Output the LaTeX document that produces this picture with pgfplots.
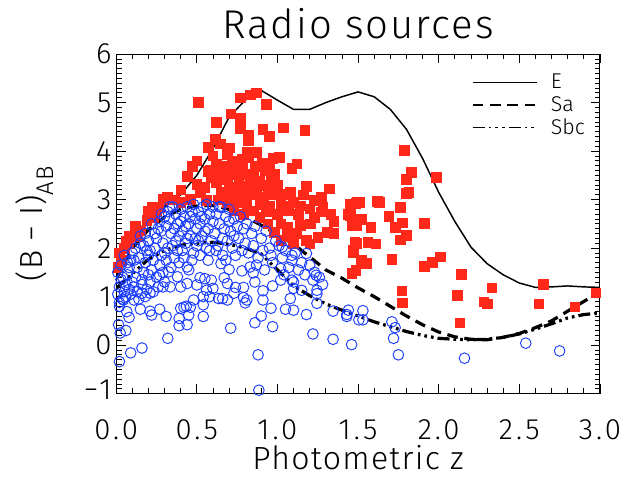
\documentclass[border=0pt]{standalone}
\usepackage{fontspec}
\setmainfont{Fira Sans Light}
\usepackage{pgfplots}
\pgfplotsset{compat=1.18}
\definecolor{sqred}{RGB}{255,40,25}
\definecolor{cblue}{RGB}{25,60,255}
\begin{document}
\begin{tikzpicture}
\useasboundingbox (-87pt,-63pt) rectangle (392.25pt,294.75pt);
\begin{axis}[
  at={(0pt,0pt)}, anchor=south west,
  scale only axis, width=362.25pt, height=254.25pt,
  xmin=0, xmax=3, ymin=-1, ymax=6,
  xtick={0,0.5,1,1.5,2,2.5,3},
  xticklabels={0.0,0.5,1.0,1.5,2.0,2.5,3.0},
  ytick={-1,0,1,2,3,4,5,6},
  yticklabels={{\raisebox{6pt}{−1}},0,1,2,3,4,5,{\raisebox{-7pt}{6}}},
  minor x tick num=4, minor y tick num=9,
  tick align=inside, major tick length=7pt, minor tick length=4pt,
  axis line style={line width=0.8pt},
  every tick/.style={black, line width=0.6pt},
  ticklabel style={font=\fontsize{22}{24}\selectfont\addfontfeatures{LetterSpace=10}},
  xticklabel style={anchor=base, yshift=-34pt},
  title={Radio sources},
  title style={at={(0.5,1)}, anchor=base, yshift=6pt, font=\fontsize{30}{32}\selectfont\addfontfeatures{LetterSpace=5}},
  xlabel={Photometric z},
  xlabel style={at={(0.5,0)}, anchor=base, yshift=-57pt, font=\fontsize{24}{26}\selectfont\addfontfeatures{LetterSpace=4}},
  ylabel={(B\hspace{0.3em}−\hspace{0.3em}I)\raisebox{-0.35em}{\fontsize{18}{18}\selectfont AB}},
  ylabel style={at={(axis description cs:-0.168,0.5)}, anchor=center, font=\fontsize{24}{26}\selectfont\addfontfeatures{LetterSpace=4}},
  legend style={draw=none, fill=none, at={(axis description cs:0.975,0.949)}, anchor=north east,
    font=\fontsize{16}{18}\selectfont, row sep=0pt, inner sep=0pt},
  legend cell align=left,
  legend image code/.code={\draw[#1, line width=1.2pt] (0pt,0pt) -- (48pt,0pt);},
]
% red squares
\addplot[only marks, mark=square*, mark size=3.6pt, color=sqred, forget plot] coordinates {
(0.51,5.01)(0.77,5.10)(0.83,5.16)(0.87,5.20)(0.93,4.96)(0.71,4.77)(0.77,4.68)(0.62,4.60)(0.77,4.46)(0.91,4.45)
(0.95,4.31)(1.035,4.48)(1.17,4.43)(0.82,4.33)(0.82,4.21)(0.615,4.24)(0.646,4.15)(0.57,4.08)(0.70,4.07)(0.69,3.93)
(0.81,3.97)(0.87,3.97)(0.82,3.87)(0.97,3.85)(1.01,3.87)(0.72,3.80)(0.50,3.80)(0.47,3.69)(0.62,3.73)(0.785,3.73)
(0.86,3.69)(0.905,3.76)(1.12,3.74)(1.09,3.64)(0.57,3.58)(0.635,3.59)(0.69,3.63)(0.73,3.52)(0.79,3.52)(0.85,3.52)
(0.925,3.61)(0.98,3.52)(0.44,3.48)(0.59,3.46)(0.62,3.35)(0.69,3.42)(0.76,3.39)(0.83,3.42)(0.89,3.39)(0.96,3.42)
(0.50,3.32)(0.70,3.25)(0.77,3.28)(0.82,3.25)(0.87,3.22)(0.94,3.25)(1.18,3.27)(1.32,3.22)(0.52,3.15)(0.65,3.15)
(0.72,3.11)(0.79,3.08)(0.85,3.11)(0.915,3.05)(0.98,3.11)(1.04,3.11)(1.08,3.15)(1.16,3.10)(1.27,3.05)(1.23,2.99)
(0.315,3.05)(0.46,3.01)(0.56,2.98)(0.69,2.94)(0.75,2.94)(0.81,2.91)(0.89,2.91)(0.95,2.87)(1.02,2.91)(1.07,2.87)
(1.14,2.87)(1.20,2.81)(1.28,2.84)(1.45,2.91)(1.495,2.94)(0.20,2.77)(0.27,2.84)(0.29,3.01)(0.73,2.77)(0.79,2.70)
(0.85,2.77)(1.00,2.70)(1.06,2.77)(1.13,2.70)(1.23,2.64)(1.33,2.70)(1.44,2.70)(1.46,2.50)(0.94,2.50)(1.02,2.50)
(1.06,2.43)(1.14,2.47)(1.205,2.50)(1.31,2.33)(1.35,2.31)(0.89,2.64)(1.06,2.23)(1.18,2.16)(1.20,2.09)(1.48,2.12)
(1.02,2.16)(1.10,2.09)(0.077,2.09)(0.15,2.36)(0.13,2.23)(0.19,2.57)(0.23,2.64)(0.25,2.77)(0.02,1.9)(0.05,2.0)
(0.03,1.75)(0.01,1.6)
(1.785,4.02)(1.83,3.56)(1.80,3.42)(1.985,3.46)(1.80,3.13)(1.815,3.15)(1.62,2.96)(1.485,2.93)(1.51,2.94)(1.45,2.77)
(1.45,2.67)(1.52,2.60)(1.69,2.66)(1.76,2.84)(1.46,2.47)(1.49,2.47)(1.58,2.43)(1.73,2.43)(1.775,2.52)(1.91,2.51)
(1.76,2.17)(1.80,2.27)(1.49,2.10)(1.56,2.12)(1.61,2.09)(1.47,1.95)
(1.47,1.90)(1.52,1.75)(1.55,1.69)(1.71,1.77)(1.485,1.54)(1.46,1.48)(1.91,1.63)(1.96,1.71)(2.01,1.82)(2.14,1.46)
(1.77,1.12)(1.775,0.87)(2.115,1.03)(2.33,1.18)(2.28,0.89)(2.30,0.85)(2.13,0.46)(2.65,1.25)(2.62,0.85)(2.845,0.79)
(2.975,1.08)(1.63,2.94)
(0.60,3.90)(0.66,3.70)(0.75,3.65)(0.90,3.30)(0.55,3.25)(0.63,3.00)(0.40,3.20)(0.36,3.00)(0.93,2.75)(1.10,2.95)
(1.00,3.30)(0.95,3.62)(0.78,3.83)(0.65,3.45)(0.58,3.60)(1.27,2.75)(1.35,2.55)(0.98,2.33)(1.12,2.30)(1.25,2.22)
(0.40,2.95)(0.22,2.85)(0.12,2.45)(0.08,2.25)(0.06,2.15)
};
% blue circles
\addplot[only marks, mark=o, mark size=4pt, mark options={line width=0.7pt}, color=cblue, forget plot] coordinates {
(0.025,0.25)(0.015,0.42)(0.02,-0.34)(0.09,-0.16)(0.16,-0.06)(0.32,0.14)(0.06,0.30)(0.08,0.57)(0.066,0.69)(0.15,0.74)
(0.21,0.70)(0.22,0.62)(0.27,0.74)(0.31,0.59)(0.39,0.55)(0.39,0.40)(0.44,0.42)(0.40,0.76)(0.435,0.80)(0.45,0.62)
(0.54,0.59)(0.54,0.83)(0.71,0.35)(0.88,-0.20)(0.885,-0.93)(0.86,0.46)(0.90,0.60)(0.97,0.38)(0.96,0.76)(1.05,0.74)
(1.10,0.72)(1.18,0.63)(1.22,0.23)(1.345,0.12)(1.46,0.01)(1.345,0.70)(1.43,0.63)(1.505,0.52)(0.91,0.93)(0.81,0.93)
(0.80,0.87)(0.66,0.96)(0.69,0.93)(0.635,0.96)(0.58,1.00)(0.54,1.00)(0.48,0.93)(0.42,0.78)(0.46,0.78)(1.08,0.96)
(1.245,0.86)(1.245,1.13)(1.24,1.44)(1.22,1.34)(1.245,1.06)(1.15,1.13)(1.10,1.17)(1.09,1.34)(1.02,1.34)(0.97,1.22)
(0.91,1.12)(0.86,1.30)(0.85,1.49)(0.83,1.61)(0.78,1.53)(0.79,0.98)(0.79,1.19)(0.74,1.19)(0.73,1.07)(0.69,1.27)
(0.67,1.39)(0.70,1.56)(0.65,1.68)(0.59,1.34)(0.60,1.17)(0.55,1.37)(0.52,1.39)(0.50,1.24)(0.56,1.13)(0.44,1.61)
(0.44,1.27)(0.40,1.20)(0.38,1.41)(0.335,1.20)(0.29,1.20)(0.27,1.44)(0.325,1.51)(0.21,1.07)(0.16,1.07)(0.11,0.93)
(0.045,0.93)(0.02,0.88)
(1.44,0.72)(1.43,0.59)(1.53,0.52)(1.53,0.71)(1.71,0.48)(1.73,0.36)(1.72,0.14)(1.75,-0.20)(2.16,-0.27)(2.54,0.04)
(2.75,-0.12)(1.03,2.02)(1.02,1.58)(1.09,1.85)(1.18,1.89)
(0.01,1.05)(0.02,1.2)(0.03,1.35)(0.01,1.5)(0.04,0.95)(0.05,1.1)(0.06,1.25)(0.07,1.45)(0.08,1.6)(0.03,1.65)
(0.09,1.75)(0.05,1.85)(0.1,1.3)(0.1,1.9)(0.02,0.8)(0.06,1.0)(0.08,1.15)(0.04,1.4)(0.07,1.7)(0.09,1.05)
(0.11,1.2)(0.12,1.4)(0.13,1.6)(0.14,1.8)(0.12,2.0)(0.15,2.1)(0.16,1.25)(0.17,1.5)(0.18,1.7)(0.19,1.95)
(0.15,2.25)(0.18,2.3)(0.2,2.15)(0.13,1.1)(0.16,1.35)(0.19,1.15)(0.2,1.45)(0.14,0.95)(0.18,1.0)(0.2,1.85)
(0.11,1.75)(0.17,2.05)
(0.21,1.3)(0.22,1.55)(0.23,1.75)(0.24,2.0)(0.25,2.2)(0.26,2.4)(0.22,2.5)(0.27,2.55)(0.28,2.35)(0.29,2.1)
(0.3,1.9)(0.23,1.1)(0.25,1.4)(0.27,1.65)(0.28,1.85)(0.3,2.65)(0.24,2.3)(0.26,1.2)(0.29,1.5)(0.21,1.95)
(0.28,2.7)(0.3,1.3)
(0.31,2.45)(0.32,2.75)(0.33,2.6)(0.34,2.3)(0.35,2.05)(0.36,1.8)(0.37,2.7)(0.38,2.5)(0.39,2.25)(0.4,2.8)
(0.32,2.0)(0.34,1.6)(0.36,2.4)(0.38,1.95)(0.4,2.55)(0.33,2.85)(0.37,2.15)(0.39,1.7)(0.35,2.85)(0.31,1.75)
(0.41,2.35)(0.42,2.65)(0.43,2.1)(0.44,2.85)(0.45,2.5)(0.46,2.25)(0.47,2.75)(0.48,1.9)(0.49,2.6)(0.5,2.4)
(0.42,1.8)(0.44,2.2)(0.46,2.65)(0.48,2.9)(0.5,2.05)(0.43,2.45)(0.47,1.75)(0.45,1.55)(0.49,2.2)(0.41,1.95)
(0.51,2.75)(0.52,2.5)(0.53,2.25)(0.54,2.85)(0.55,2.6)(0.56,2.0)(0.57,2.4)(0.58,2.7)(0.59,2.15)(0.6,2.55)
(0.52,1.85)(0.55,2.35)(0.57,1.75)(0.6,2.85)(0.53,2.65)(0.58,1.95)(0.56,2.9)(0.51,2.15)
(0.61,2.3)(0.62,2.7)(0.63,2.05)(0.64,2.5)(0.65,2.85)(0.66,1.85)(0.67,2.4)(0.68,2.65)(0.69,2.15)(0.7,2.55)
(0.62,1.95)(0.66,2.2)(0.68,1.75)(0.7,2.8)(0.64,2.85)
(0.71,2.35)(0.72,2.0)(0.73,2.6)(0.74,1.85)(0.75,2.45)(0.76,2.2)(0.77,2.65)(0.78,1.95)(0.79,2.4)(0.8,2.1)
(0.73,2.25)
(0.81,2.5)(0.82,1.9)(0.84,2.3)(0.85,2.05)(0.86,2.45)(0.88,1.8)(0.9,2.2)(0.91,1.95)(0.93,2.35)(0.95,2.0)
(0.97,1.7)(0.99,2.15)(0.87,1.65)(0.92,1.55)(0.96,1.85)
(1.01,2.05)(1.03,1.8)(1.05,1.95)(1.07,1.6)(1.09,1.75)(1.11,1.9)(1.13,1.55)(1.15,1.7)(1.17,1.45)(1.2,1.65)
(1.23,1.5)(1.26,1.4)(1.28,1.25)(1.04,1.45)(1.1,1.3)
};
% E
\addplot[black, line width=1.1pt] coordinates {
(0.0,1.65)(0.1,2.15)(0.2,2.65)(0.3,2.85)(0.4,3.1)(0.5,3.5)(0.6,4.05)(0.7,4.7)(0.8,5.05)(0.9,5.25)
(1.0,5.05)(1.1,4.86)(1.2,4.86)(1.3,5.0)(1.4,5.12)(1.5,5.22)(1.6,5.12)(1.7,4.86)(1.8,4.45)(1.9,3.85)
(2.0,3.15)(2.1,2.55)(2.2,2.02)(2.3,1.68)(2.4,1.45)(2.5,1.28)(2.6,1.19)(2.7,1.2)(2.8,1.22)(2.9,1.2)(3.0,1.19)
};
\addlegendentry{\hspace*{8pt}E}
% Sa
\addplot[black, line width=2.4pt, dash pattern=on 8pt off 5pt] coordinates {
(0,1.37)(0.1,2.0)(0.2,2.38)(0.3,2.64)(0.4,2.8)(0.5,2.87)(0.6,2.88)(0.7,2.8)(0.8,2.65)(0.9,2.47)
(1.0,2.28)(1.1,2.08)(1.2,1.82)(1.3,1.55)(1.4,1.38)(1.5,1.18)(1.6,1.0)(1.7,0.8)(1.8,0.6)(1.9,0.42)
(2.0,0.27)(2.1,0.17)(2.2,0.12)(2.3,0.11)(2.4,0.16)(2.5,0.24)(2.6,0.36)(2.7,0.5)(2.8,0.7)(2.9,0.9)(3.0,1.1)
};
\addlegendentry{\hspace*{8pt}Sa}
% Sbc
\addplot[black, line width=2.4pt, dash pattern=on 9pt off 3pt on 2pt off 3pt on 2pt off 3pt on 2pt off 3pt] coordinates {
(0,1.17)(0.1,1.47)(0.2,1.77)(0.3,1.95)(0.4,2.06)(0.5,2.1)(0.6,2.12)(0.7,2.08)(0.8,2.0)(0.9,1.88)
(1.0,1.55)(1.1,1.22)(1.2,1.02)(1.3,0.85)(1.4,0.72)(1.5,0.6)(1.6,0.48)(1.7,0.38)(1.8,0.28)(1.9,0.2)
(2.0,0.14)(2.1,0.12)(2.2,0.11)(2.3,0.12)(2.4,0.16)(2.5,0.23)(2.6,0.33)(2.7,0.44)(2.8,0.56)(2.9,0.63)(3.0,0.66)
};
\addlegendentry{\hspace*{8pt}Sbc}
\end{axis}
\end{tikzpicture}
\end{document}
